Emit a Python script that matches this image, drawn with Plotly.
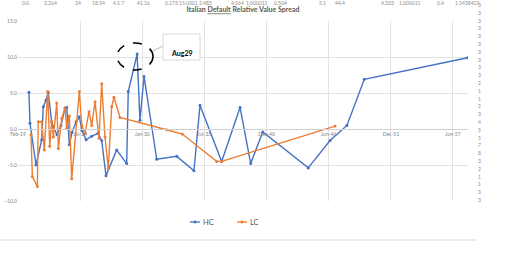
import plotly.graph_objects as go
from datetime import datetime, timedelta

# ---------------- data (decimal years, spread values) ----------------
hc_year = [2020.05, 2020.14, 2020.67, 2021.17, 2021.31, 2021.55, 2021.75, 2022.05, 2022.20,
           2022.52, 2022.87, 2023.23, 2023.38, 2023.61, 2023.84, 2024.20, 2024.49, 2024.72,
           2025.08, 2025.58, 2026.13, 2026.46, 2026.84, 2027.78, 2028.66, 2028.80, 2029.58,
           2029.83, 2030.19, 2031.31, 2033.07, 2034.59, 2035.12, 2037.03, 2038.65, 2039.59,
           2040.65, 2044.66, 2046.58, 2048.07, 2049.60, 2058.70]
hc_value = [5.1, 0.8, -5.0, -1.5, 3.1, 4.0, 5.1, 1.0, 0.3,
            -0.8, 0.5, 2.9, 3.0, -2.2, -0.5, 1.0, 1.7, -0.2,
            -1.5, -1.0, -0.6, -1.6, -6.5, -2.9, -4.8, 5.2, 10.4,
            1.2, 7.3, -4.2, -3.8, -5.8, 3.3, -4.5, 3.0, -4.8,
            -0.4, -5.4, -1.6, 0.5, 6.9, 9.9]

lc_year = [2020.23, 2020.35, 2020.79, 2020.87, 2021.17, 2021.40, 2021.70, 2021.88, 2022.05,
           2022.20, 2022.50, 2022.64, 2022.94, 2023.23, 2023.38, 2023.61, 2023.82, 2024.49,
           2024.70, 2024.99, 2025.34, 2025.58, 2025.87, 2026.22, 2026.46, 2026.75, 2027.04,
           2027.34, 2027.54, 2028.07, 2032.19, 2033.56, 2036.59, 2037.03, 2047.02]
lc_value = [-0.8, -6.6, -8.0, 1.0, 1.0, -2.9, 5.2, -2.4, 1.0,
            -1.1, 3.6, -2.7, 1.5, 2.9, 0.1, 1.8, -6.9, 5.2,
            0.5, -0.6, 2.4, 0.5, 3.8, -1.3, 6.3, -1.1, -5.5,
            3.1, 4.4, 1.6, -0.1, -0.7, -4.5, -4.5, 0.4]

series_names = ["HC", "LC"]
series_colors = ["#4472C4", "#ED7D31"]
title_text = "Italian <span style='text-decoration:underline'>Default</span> Relative Value Spread"
callout_text = "Aug29"
tick_start = datetime(2019, 2, 1)
tick_step_days = 2000

right_col_digits = ["3", "3", "3", "3", "3", "3", "3", "3", "3", "3", "2", "1", "1", "2", "3",
                    "4", "5", "5", "7", "8", "3", "2", "1", "1", "3", "3"]
top_row_cells = ["0.0", "3.264", "24", "18.54", "4.1 7", "41.16", "0.173 15.0001 2.483", "4.564",
                 "1.000011", "0.504", "5.1", "44.4", "4.333", "1.000011", "0.4", "1.5458415"]
top_row_px = [25, 50, 78, 98, 118, 143, 188, 237, 257, 280, 322, 340, 387, 410, 440, 467]


def yr2date(y):
    yi = int(y)
    a = datetime(yi, 1, 1)
    b = datetime(yi + 1, 1, 1)
    return a + (b - a) * (y - yi)


hc_x = [yr2date(v) for v in hc_year]
lc_x = [yr2date(v) for v in lc_year]

W, H = 511, 261
L, R, T, B = 18, 43, 21, 60
PW, PH = W - L - R, H - T - B


def px(xp):
    return (xp - L) / PW


def py(yp):
    return (H - B - yp) / PH


fig = go.Figure()
for xs, ys, nm, col in [(hc_x, hc_value, series_names[0], series_colors[0]),
                        (lc_x, lc_value, series_names[1], series_colors[1])]:
    fig.add_trace(go.Scatter(x=xs, y=ys, mode="lines+markers", name=nm,
                             line=dict(color=col, width=1.4),
                             marker=dict(color=col, size=3), showlegend=False))

x_end = tick_start + timedelta(days=14483)

fig.update_layout(
    width=W, height=H,
    margin=dict(l=L, r=R, t=T, b=B, autoexpand=False),
    paper_bgcolor="white", plot_bgcolor="white",
    font=dict(family="Lato, Open Sans, sans-serif", color="#595959"),
    title=dict(text="<b>" + title_text + "</b>", x=243 / W, y=1 - 10 / H,
               xanchor="center", yanchor="middle",
               font=dict(size=7, color="#595959")),
    xaxis=dict(type="date", range=[tick_start, x_end],
               tick0=tick_start, dtick=tick_step_days * 86400000,
               tickformat="%b-%y", showgrid=True, gridcolor="#e2e2e2", gridwidth=1,
               anchor="free", position=0.4, showline=True, linecolor="#d0d0d0",
               ticks="", zeroline=False, automargin=False,
               tickfont=dict(size=5, color="#7f7f7f")),
    yaxis=dict(range=[-10, 15], dtick=5, tick0=0, tickformat=".1f",
               showgrid=True, gridcolor="#e2e2e2", gridwidth=1, zeroline=False,
               ticks="", automargin=False, tickfont=dict(size=5, color="#7f7f7f")),
)

shapes = []
annotations = []
# dashed ellipse around Aug29 peak
shapes.append(dict(type="circle", xref="paper", yref="paper",
                   x0=px(117), x1=px(153), y0=py(70), y1=py(43),
                   line=dict(color="black", width=1.5, dash="dash")))
# connector
shapes.append(dict(type="line", xref="paper", yref="paper",
                   x0=px(163), y0=py(46), x1=px(153), y1=py(51),
                   line=dict(color="#a6a6a6", width=0.8)))
# callout box
shapes.append(dict(type="rect", xref="paper", yref="paper",
                   x0=px(163), x1=px(200), y0=py(60), y1=py(34),
                   fillcolor="white", line=dict(color="#d0d0d0", width=0.8)))
annotations.append(dict(text="<b>" + callout_text + "</b>", xref="paper", yref="paper",
                        x=px(181.5), y=py(47), showarrow=False,
                        font=dict(size=7, color="black")))
# custom legend
for (x0, nm, col) in [(190, series_names[0], series_colors[0]), (237, series_names[1], series_colors[1])]:
    shapes.append(dict(type="line", xref="paper", yref="paper",
                       x0=px(x0), x1=px(x0 + 10), y0=py(222), y1=py(222),
                       line=dict(color=col, width=1.3)))
    shapes.append(dict(type="circle", xref="paper", yref="paper",
                       x0=px(x0 + 3.8), x1=px(x0 + 6.2), y0=py(223.2), y1=py(220.8),
                       fillcolor=col, line=dict(color=col, width=0.5)))
    annotations.append(dict(text=nm, xref="paper", yref="paper", x=px(x0 + 10.5), y=py(222),
                            xanchor="left", yanchor="middle", showarrow=False,
                            font=dict(size=7.5, color="#595959")))
# chart bottom border
shapes.append(dict(type="line", xref="paper", yref="paper",
                   x0=px(0), x1=px(476), y0=py(240), y1=py(240),
                   line=dict(color="#d9d9d9", width=1)))
# spreadsheet background cells
for i, d in enumerate(right_col_digits):
    annotations.append(dict(text=d, xref="paper", yref="paper", x=px(479), y=py(5 + i * 7.8),
                            xanchor="center", yanchor="middle", showarrow=False,
                            font=dict(size=5, color="#8c8c8c")))
for t, xp in zip(top_row_cells, top_row_px):
    annotations.append(dict(text=t, xref="paper", yref="paper", x=px(xp), y=py(3.5),
                            xanchor="center", yanchor="middle", showarrow=False,
                            font=dict(size=5, color="#8c8c8c")))

fig.update_layout(shapes=shapes, annotations=annotations)
fig.write_html("out.html")
